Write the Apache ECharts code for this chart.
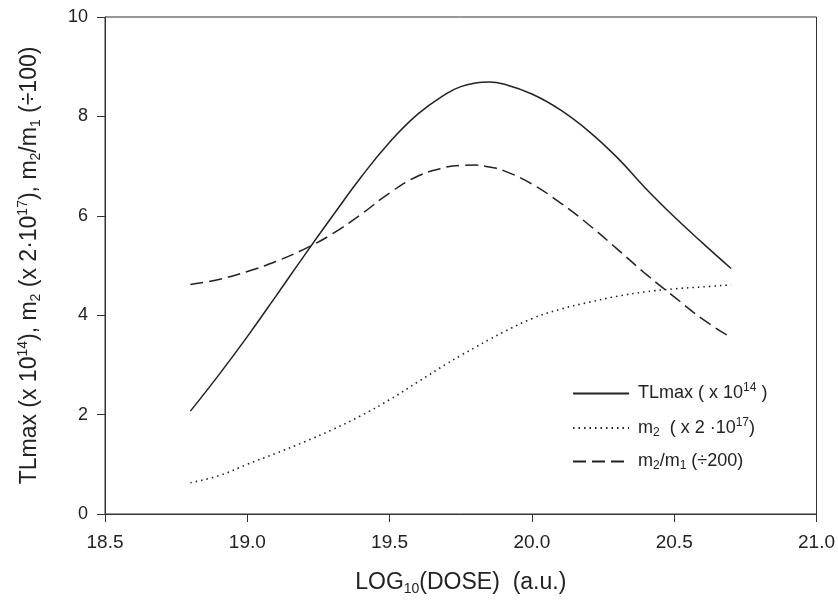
<!DOCTYPE html>
<html>
<head>
<meta charset="utf-8">
<script src="https://cdn.jsdelivr.net/npm/echarts@6/dist/echarts.min.js"></script>
<style>
  html, body { margin: 0; padding: 0; background: #fff; }
  #chart { width: 838px; height: 605px; }
</style>
</head>
<body>
<div id="chart"></div>
<script>
// log10(dose) values
var dose = [18.8, 18.9, 19.0, 19.1, 19.2, 19.3, 19.4, 19.5, 19.6, 19.7, 19.75,
            19.8, 19.85, 19.9, 20.0, 20.1, 20.2, 20.3, 20.4, 20.5, 20.6, 20.7];
// TLmax (x 10^14)
var tlmax = [2.07, 2.80, 3.57, 4.38, 5.20, 6.00, 6.78, 7.48, 8.05, 8.46, 8.60,
             8.67, 8.69, 8.65, 8.45, 8.13, 7.70, 7.17, 6.55, 5.98, 5.45, 4.94];
// m2 (x 2·10^17)
var m2 = [0.63, 0.77, 1.0, 1.22, 1.45, 1.7, 1.98, 2.3, 2.66, 3.02, 3.19,
          3.35, 3.51, 3.66, 3.93, 4.12, 4.26, 4.38, 4.47, 4.53, 4.57, 4.61];
// m2/m1 (÷200)
var ratio = [4.62, 4.72, 4.88, 5.08, 5.33, 5.64, 6.03, 6.46, 6.80, 6.98, 7.015,
             7.02, 6.98, 6.91, 6.64, 6.26, 5.82, 5.33, 4.83, 4.37, 3.92, 3.55];

var xTicks = [18.5, 19.0, 19.5, 20.0, 20.5, 21.0];
var yTicks = [0, 2, 4, 6, 8, 10];

function pairs(ys) {
  return dose.map(function (x, i) { return [x, ys[i]]; });
}

var font = '"Liberation Sans", Arial, sans-serif';
var ink = '#222';

var rich = {
  n: { fontFamily: font, fontSize: 18, color: ink },
  sup: { fontFamily: font, fontSize: 12, color: ink, padding: [0, 0, 11, 0] },
  sub: { fontFamily: font, fontSize: 12, color: ink, padding: [9, 0, 0, 0] }
};
var richAxis = {
  n: { fontFamily: font, fontSize: 23, color: ink },
  sup: { fontFamily: font, fontSize: 14, color: ink, padding: [0, 0, 14, 0] },
  sub: { fontFamily: font, fontSize: 14, color: ink, padding: [12, 0, 0, 0] }
};

var legendText = {
  'TLmax': '{n|TLmax ( x 10}{sup|14}{n| )}',
  'm2': '{n|m}{sub|2}{n|  ( x 2 ·10}{sup|17}{n|)}',
  'm2m1': '{n|m}{sub|2}{n|/m}{sub|1}{n| (÷200)}'
};

var chart = echarts.init(document.getElementById('chart'));
var option = {
  backgroundColor: '#fff',
  animation: false,
  grid: {
    left: 105, right: 20, top: 17, bottom: 91,
    show: true, borderColor: '#333', borderWidth: 1
  },
  legend: {
    orient: 'vertical',
    left: 567,
    top: 377,
    itemGap: 14,
    itemWidth: 56,
    itemHeight: 10,
    itemStyle: { opacity: 0 },
    data: ['TLmax', 'm2', 'm2m1'],
    formatter: function (name) { return legendText[name]; },
    textStyle: { rich: rich, padding: [0, 0, 0, 4] }
  },
  xAxis: {
    type: 'value',
    min: 18.5, max: 21, interval: 0.5,
    name: '{n|LOG}{sub|10}{n|(DOSE)  (a.u.)}',
    nameLocation: 'middle',
    nameGap: 56,
    nameTextStyle: { rich: richAxis },
    axisLine: { lineStyle: { color: '#333', width: 1 } },
    axisTick: { inside: false, length: 8, lineStyle: { color: '#333' } },
    axisLabel: {
      fontFamily: font, fontSize: 19, color: ink, margin: 19,
      formatter: function (v) { return xTicks.indexOf(v) >= 0 ? v.toFixed(1) : ''; }
    },
    splitLine: { show: false }
  },
  yAxis: {
    type: 'value',
    min: 0, max: 10, interval: 2,
    name: '{n|TLmax (x 10}{sup|14}{n|), m}{sub|2}{n| (x 2·10}{sup|17}{n|), m}{sub|2}{n|/m}{sub|1}{n| (÷100)}',
    nameLocation: 'middle',
    nameRotate: 90,
    nameGap: 61,
    nameTextStyle: { rich: richAxis },
    axisLine: { lineStyle: { color: '#333', width: 1 } },
    axisTick: { inside: false, length: 8, lineStyle: { color: '#333' } },
    axisLabel: {
      fontFamily: font, fontSize: 18, color: ink, margin: 17,
      formatter: function (v) { return yTicks.indexOf(v) >= 0 ? String(v) : ''; }
    },
    splitLine: { show: false }
  },
  series: [
    {
      name: 'TLmax', type: 'line', data: pairs(tlmax),
      smooth: 0.45, symbol: 'none',
      lineStyle: { color: ink, width: 1.5, type: 'solid' },
      itemStyle: { color: ink }
    },
    {
      name: 'm2', type: 'line', data: pairs(m2),
      smooth: 0.45, symbol: 'none',
      lineStyle: { color: ink, width: 1.6, type: [1.5, 4] },
      itemStyle: { color: ink }
    },
    {
      name: 'm2m1', type: 'line', data: pairs(ratio),
      smooth: 0.45, symbol: 'none',
      lineStyle: { color: ink, width: 1.5, type: [13, 6] },
      itemStyle: { color: ink }
    }
  ]
};
chart.setOption(option);
</script>
</body>
</html>
